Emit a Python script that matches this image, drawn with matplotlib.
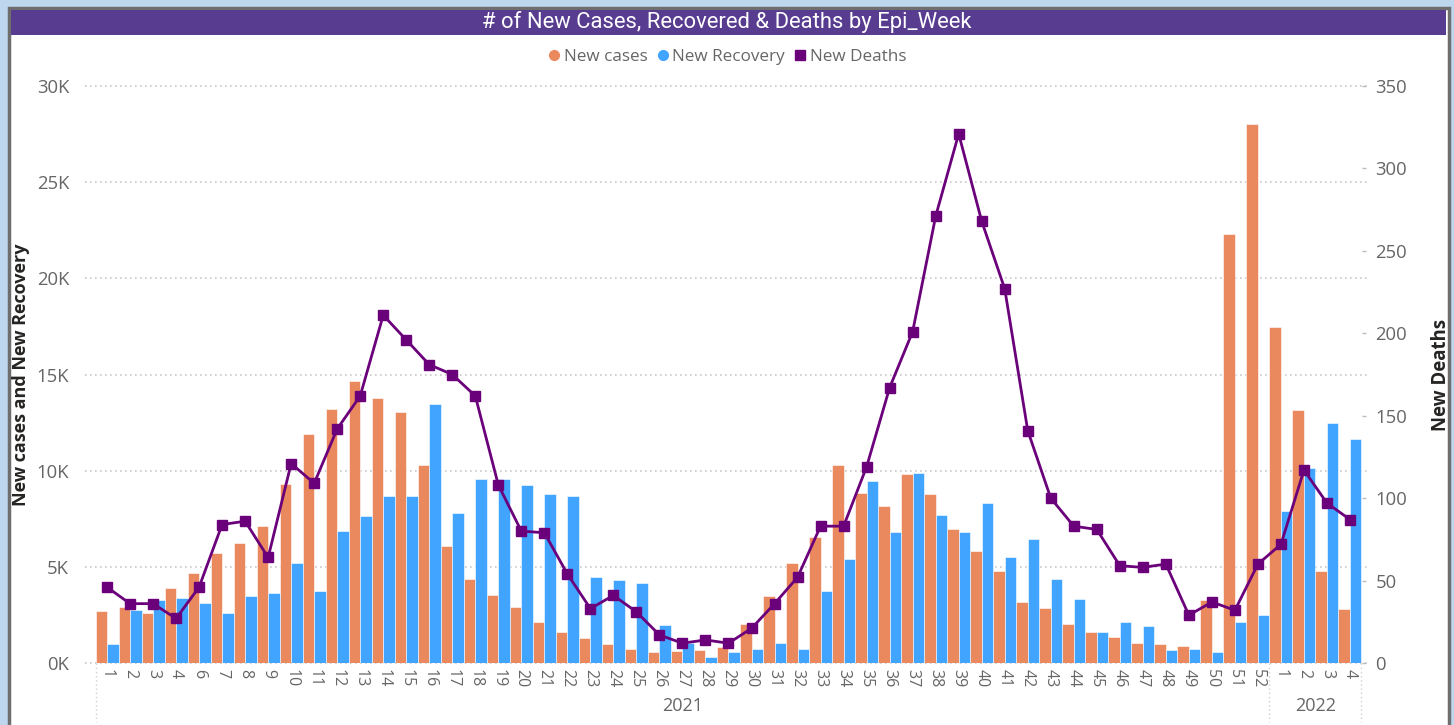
import matplotlib
matplotlib.use("Agg")
import matplotlib.pyplot as plt
import matplotlib.patches as patches
import matplotlib.transforms as mtransforms
from matplotlib.ticker import FuncFormatter, FixedLocator
from matplotlib.lines import Line2D

plt.rcParams["font.family"] = ["Open Sans", "DejaVu Sans"]

# Epi week labels (week 5 of 2021 absent in the source)
weeks = ["1", "2", "3", "4"] + [str(w) for w in range(6, 53)] + ["1", "2", "3", "4"]
years = ["2021"] * 51 + ["2022"] * 4

new_cases = [2700, 2900, 2600, 3900,
             4700, 5700, 6250, 7100, 9300,
             11900, 13200, 14650, 13800, 13050,
             10300, 6100, 4350, 3550, 2900,
             2150, 1600, 1300, 1000, 750,
             550, 600, 650, 850, 2050,
             3500, 5200, 6550, 10300, 8850,
             8150, 9850, 8800, 6950, 5800,
             4800, 3150, 2850, 2050, 1600,
             1350, 1050, 1000, 900, 3300,
             22300, 28000,
             17450, 13150, 4800, 2800]

new_recovery = [1000, 2750, 3300, 3400,
                3100, 2600, 3500, 3650, 5200,
                3750, 6850, 7650, 8700, 8700,
                13450, 7800, 9550, 9550, 9250,
                8800, 8700, 4450, 4300, 4150,
                2000, 1050, 300, 550, 750,
                1050, 750, 3750, 5400, 9450,
                6800, 9900, 7700, 6800, 8300,
                5500, 6450, 4350, 3350, 1600,
                2150, 1900, 700, 750, 550,
                2150, 2500,
                7900, 10150, 12500, 11650]

new_deaths = [46, 36, 36, 27,
              46, 84, 86, 64, 121,
              109, 142, 162, 211, 196,
              181, 175, 162, 108, 80,
              79, 54, 33, 41, 31,
              17, 12, 14, 12, 21,
              36, 52, 83, 83, 119,
              167, 201, 271, 321, 268,
              227, 141, 100, 83, 81,
              59, 58, 60, 29, 37,
              32, 60,
              72, 117, 97, 87]

c_cases = "#EB895E"
c_recov = "#41A4FF"
c_deaths = "#6B007B"
grey = "#666666"

W, H = 1454, 725
fig = plt.figure(figsize=(W / 100, H / 100), dpi=100)
fig.patch.set_facecolor("#BED7EE")

def fx(px):
    return px / W

def fy(py):
    return 1 - py / H

# white panel with grey border
fig.patches.append(patches.Rectangle((fx(9), fy(740)), fx(1440), fy(8) - fy(740),
                                     transform=fig.transFigure, facecolor="white",
                                     edgecolor="#6E6E6E", linewidth=2.5, zorder=-3))
# purple title bar
fig.patches.append(patches.Rectangle((fx(11), fy(35)), fx(1435), fy(10) - fy(35),
                                     transform=fig.transFigure, facecolor="#583C8F",
                                     edgecolor="none", zorder=-2))
fig.text(0.5, fy(22), "# of New Cases, Recovered & Deaths by Epi_Week",
         ha="center", va="center", color="white", fontsize=15.8,
         family=["Roboto", "DejaVu Sans"])

ax = fig.add_axes([fx(95.5), fy(663), fx(1361.5 - 95.5), fy(86) - fy(663)])
ax.set_facecolor("none")
x = list(range(len(weeks)))
xl = [i - 0.25 for i in x]
xr = [i + 0.25 for i in x]
ax.bar(xl, new_cases, width=0.5, color=c_cases, edgecolor="white", linewidth=0.4, zorder=2)
ax.bar(xr, new_recovery, width=0.5, color=c_recov, edgecolor="white", linewidth=0.4, zorder=2)
ax.set_xlim(-0.5, len(weeks) - 0.5)
ax.set_ylim(0, 30000)
ax.yaxis.set_major_locator(FixedLocator([0, 5000, 10000, 15000, 20000, 25000, 30000]))
ax.yaxis.set_major_formatter(FuncFormatter(lambda v, p: f"{int(v / 1000)}K"))
ax.tick_params(axis="y", length=0, pad=19, labelsize=13.3, labelcolor=grey)
ax.set_xticks(x)
ax.set_xticklabels(weeks, rotation=-90, fontsize=11.5, color=grey)
ax.tick_params(axis="x", length=0, pad=4)
for s in ax.spines.values():
    s.set_visible(False)

# dotted gridlines extending slightly past the plot area
trans = mtransforms.blended_transform_factory(ax.transAxes, ax.transData)
for v in [0, 5000, 10000, 15000, 20000, 25000, 30000]:
    ax.add_line(Line2D([-0.008, 1.007], [v, v], transform=trans, color="#C8C8C8",
                       linestyle=(0, (1, 2)), linewidth=1.2, clip_on=False, zorder=1))

ax.set_ylabel("New cases and New Recovery", fontsize=13, color="#252423",
              fontweight="bold")
ax.yaxis.set_label_coords((30 - 95.5) / 1266, 0.5)

# year group labels and separators under the axis
transx = mtransforms.blended_transform_factory(ax.transData, fig.transFigure)
for xs in [-0.5, 50.5, len(weeks) - 0.5]:
    ax.add_line(Line2D([xs, xs], [fy(663), fy(722)], transform=transx, color="#D0D0D0",
                       linestyle=(0, (1, 2)), linewidth=1, clip_on=False))
ax.text(25, fy(706), "2021", transform=transx, ha="center", va="center",
        fontsize=13, color=grey)
ax.text(52.5, fy(706), "2022", transform=transx, ha="center", va="center",
        fontsize=13, color=grey)

ax2 = ax.twinx()
ax2.plot(x, new_deaths, color=c_deaths, linewidth=2.0, marker="s", markersize=6.8,
         zorder=3)
ax2.set_ylim(0, 350)
ax2.yaxis.set_major_locator(FixedLocator([0, 50, 100, 150, 200, 250, 300, 350]))
ax2.tick_params(axis="y", length=3, width=1, color="#BBBBBB", pad=7,
                labelsize=13.3, labelcolor=grey)
for s in ax2.spines.values():
    s.set_visible(False)
ax2.set_ylabel("New Deaths", fontsize=13.4, color="#252423", fontweight="bold")
ax2.yaxis.set_label_coords((1431 - 95.5) / 1266, 0.5)

# legend
handles = [Line2D([], [], marker="o", linestyle="none", color=c_cases, markersize=7),
           Line2D([], [], marker="o", linestyle="none", color=c_recov, markersize=7),
           Line2D([], [], marker="s", linestyle="none", color=c_deaths, markersize=7)]
fig.legend(handles, ["New cases", "New Recovery", "New Deaths"], loc="center",
           bbox_to_anchor=(fx(726), fy(57)), ncol=3, frameon=False, fontsize=12.3,
           labelcolor=grey, handletextpad=0.05, columnspacing=0.4, handlelength=1)

fig.savefig("out.png", dpi=100, facecolor=fig.get_facecolor())
